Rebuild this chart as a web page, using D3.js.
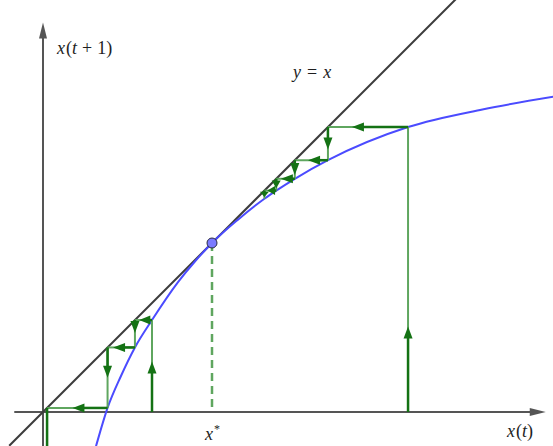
<!DOCTYPE html>
<html>
<head>
<meta charset="utf-8">
<script src="https://cdnjs.cloudflare.com/ajax/libs/d3/7.8.5/d3.min.js"></script>
<style>
  body { margin: 0; background: #fff; }
  svg { display: block; }
  text { font-family: "Liberation Serif", "DejaVu Serif", serif; fill: #1e1e1e; }
</style>
</head>
<body>
<div id="chart"></div>
<script>
// map x(t) -> x(t+1) (fixed point at 1,1)
var curveX = [0.30, 0.314, 0.382, 0.46, 0.544, 0.645, 0.80, 0.90, 1.00, 1.15, 1.31, 1.38, 1.49, 1.686, 2.16, 2.60, 3.05];
var curveY = [-0.25, -0.201, 0.024, 0.21, 0.382, 0.544, 0.77, 0.892, 1.00, 1.135, 1.262, 1.31, 1.38, 1.49, 1.686, 1.79, 1.87];

var fixedPoint = [1.0, 1.0];

// the two cobweb orbits x0, x1 = f(x0), x2 = f(x1) ...
var orbitAbove = [2.16, 1.686, 1.49, 1.38, 1.31, 1.262];
var orbitBelow = [0.645, 0.544, 0.382, 0.024, -1.0];

// where the arrow sits along each step (fraction of the step)
var arrowAbove = [0.3, 0.7, 0.68, 0.6, 0.8, 0.75, 0.8, 0.75, 0.8];
var arrowBelow = [0.55, 0.75, 0.47, 0.8, 0.5, 0.58, 0.5];

var svgWidth = 553, svgHeight = 446;

var svg = d3.select("#chart")
  .append("svg")
  .attr("width", svgWidth)
  .attr("height", svgHeight);

var x = d3.scaleLinear().domain([0, 1]).range([43, 212]);
var y = d3.scaleLinear().domain([0, 1]).range([412, 243]);

var axisColor = "#555";
var darkGreen = "#147214";
var lightGreen = "#5fa65f";

// filled triangle, tip at (tx, ty) pointing along (dx, dy)
function arrowHead(g, tx, ty, dx, dy, len, half, color) {
  var bx = tx - dx * len, by = ty - dy * len;
  var px = -dy, py = dx;
  g.append("polygon")
    .attr("points", [[tx, ty], [bx + px * half, by + py * half], [bx - px * half, by - py * half]].join(" "))
    .attr("fill", color);
}

var axes = svg.append("g");
axes.append("line")
  .attr("x1", x(-0.17)).attr("x2", x(2.94))
  .attr("y1", y(0)).attr("y2", y(0))
  .attr("stroke", axisColor).attr("stroke-width", 2);
arrowHead(axes, x(2.975), y(0), 1, 0, 16, 4, axisColor);

axes.append("line")
  .attr("x1", x(0)).attr("x2", x(0))
  .attr("y1", y(-0.25)).attr("y2", y(2.26))
  .attr("stroke", axisColor).attr("stroke-width", 2);
arrowHead(axes, x(0), y(2.305), 0, -1, 16, 4, axisColor);

// identity line y = x
svg.append("line")
  .attr("x1", x(-0.2)).attr("y1", y(-0.2))
  .attr("x2", x(2.45)).attr("y2", y(2.45))
  .attr("stroke", "#3c3c3c")
  .attr("stroke-width", 2);

// the map
var line = d3.line()
  .x(function(d) { return x(d[0]); })
  .y(function(d) { return y(d[1]); })
  .curve(d3.curveMonotoneX);

svg.append("path")
  .datum(curveX.map(function(v, i) { return [v, curveY[i]]; }))
  .attr("d", line)
  .attr("fill", "none")
  .attr("stroke", "#4b4bff")
  .attr("stroke-width", 2);

// dashed drop from the fixed point
svg.append("line")
  .attr("x1", x(fixedPoint[0])).attr("x2", x(fixedPoint[0]))
  .attr("y1", y(fixedPoint[1])).attr("y2", y(0))
  .attr("stroke", lightGreen)
  .attr("stroke-width", 2.5)
  .attr("stroke-dasharray", "8,5");

// cobweb
function cobwebPoints(orbit) {
  var pts = [[orbit[0], 0]];
  for (var i = 1; i < orbit.length; i++) {
    pts.push([orbit[i - 1], orbit[i]]);
    if (i < orbit.length - 1) pts.push([orbit[i], orbit[i]]);
  }
  return pts;
}

function drawCobweb(orbit, fracs) {
  var pts = cobwebPoints(orbit);
  var g = svg.append("g");
  for (var i = 0; i < pts.length - 1; i++) {
    var x1 = x(pts[i][0]), y1 = y(pts[i][1]);
    var x2 = x(pts[i + 1][0]), y2 = y(pts[i + 1][1]);
    var len = Math.hypot(x2 - x1, y2 - y1);
    var dx = (x2 - x1) / len, dy = (y2 - y1) / len;

    g.append("line")
      .attr("x1", x1).attr("y1", y1).attr("x2", x2).attr("y2", y2)
      .attr("stroke", lightGreen).attr("stroke-width", 2);

    var tip = fracs[i] * len;
    var headLen = Math.min(12, len * 0.65);
    var tx = x1 + dx * tip, ty = y1 + dy * tip;

    g.append("line")
      .attr("x1", x1).attr("y1", y1)
      .attr("x2", tx - dx * headLen * 0.5).attr("y2", ty - dy * headLen * 0.5)
      .attr("stroke", darkGreen).attr("stroke-width", 2.5);

    arrowHead(g, tx, ty, dx, dy, headLen, 4.5, darkGreen);
  }
}

drawCobweb(orbitAbove, arrowAbove);
drawCobweb(orbitBelow, arrowBelow);

// fixed point
svg.append("circle")
  .attr("cx", x(fixedPoint[0]))
  .attr("cy", y(fixedPoint[1]))
  .attr("r", 5)
  .attr("fill", "#7b7bff")
  .attr("stroke", "#2a2a40")
  .attr("stroke-width", 1);

// labels, math style: italic letters, upright symbols
function mathLabel(px, py, parts) {
  var t = svg.append("text").attr("x", px).attr("y", py).attr("font-size", 18);
  parts.forEach(function(p) {
    var s = t.append("tspan").text(p.s);
    if (p.i) s.attr("font-style", "italic");
    if (p.dx) s.attr("dx", p.dx);
    if (p.dy) s.attr("dy", p.dy);
    if (p.size) s.attr("font-size", p.size);
  });
  return t;
}

mathLabel(57, 54, [
  {s: "x", i: true}, {s: "(", dx: 1}, {s: "t", i: true}, {s: "+", dx: 5},
  {s: "1", dx: 5}, {s: ")"}
]);

mathLabel(293, 78, [
  {s: "y", i: true}, {s: "=", dx: 6}, {s: "x", i: true, dx: 6}
]);

mathLabel(205, 440, [
  {s: "x", i: true}, {s: "*", size: 12, dy: -7, dx: 1}
]);

mathLabel(507, 437, [
  {s: "x", i: true}, {s: "(", dx: 1}, {s: "t", i: true}, {s: ")"}
]);
</script>
</body>
</html>
